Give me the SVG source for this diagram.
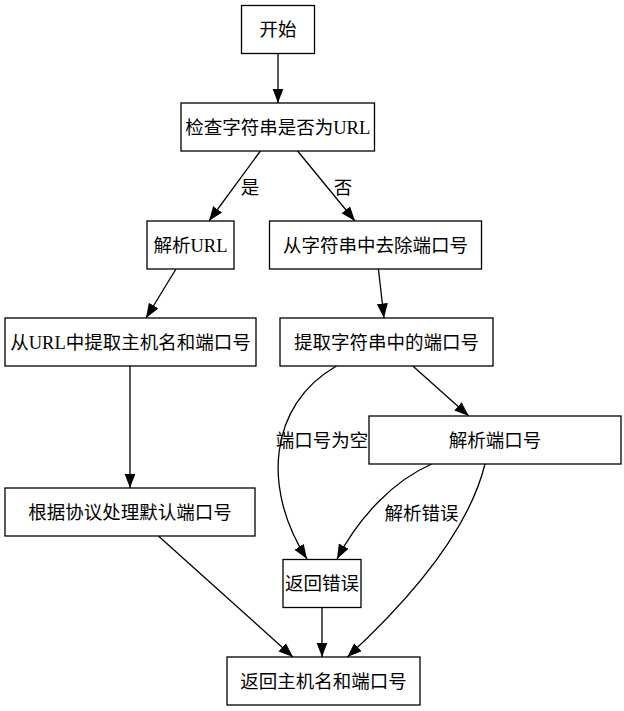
<svg xmlns="http://www.w3.org/2000/svg" width="624" height="711" viewBox="0 0 624 711">
<defs>
<style>
.n rect{fill:#fff;stroke:#000;stroke-width:1.3}
text{font-family:"Liberation Serif","Noto Sans CJK SC",serif;font-size:18.5px;fill:#000;text-anchor:middle}
.e path{fill:none;stroke:#000;stroke-width:1.3;marker-end:url(#ah)}
</style>
<marker id="ah" markerUnits="userSpaceOnUse" markerWidth="16" markerHeight="12" refX="14.5" refY="5.5" orient="auto">
<path d="M0,0 L14.5,5.5 L0,11 z" fill="#000"/>
</marker>
</defs>
<rect width="624" height="711" fill="#fff"/>
<g id="edges" class="e">
<path d="M278,53.5 L278,103"/>
<path d="M260.4,151 L209,221"/>
<path d="M297.6,151 L355,221"/>
<path d="M176,269 L146,318"/>
<path d="M378.4,269 L384,318"/>
<path d="M130,366 L130,488"/>
<path d="M412.8,366 L468.8,416"/>
<path d="M336.5,366 C268,405 262,490 307,559"/>
<path d="M431.7,464 C395,480 360,515 337,559"/>
<path d="M485,464 C470,525 420,590 347.3,657"/>
<path d="M158.4,536 L293,657"/>
<path d="M322,607.5 L322,657"/>
<text x="250" y="193.5">是</text>
<text x="343" y="193.5">否</text>
<text x="322" y="446.5">端口号为空</text>
<text x="421.5" y="519.5">解析错误</text>
</g>
<g id="start" class="n"><rect x="241.5" y="5.5" width="73" height="48"/><text x="278" y="36">开始</text></g>
<g id="check" class="n"><rect x="181" y="103" width="193.5" height="48"/><text x="277.7" y="133.5">检查字符串是否为URL</text></g>
<g id="parseurl" class="n"><rect x="147" y="221" width="87" height="48"/><text x="190.5" y="251.5">解析URL</text></g>
<g id="strip" class="n"><rect x="269.5" y="221" width="212" height="48"/><text x="375.5" y="251.5">从字符串中去除端口号</text></g>
<g id="extracturl" class="n"><rect x="5" y="318" width="251" height="48"/><text x="130.5" y="348.5">从URL中提取主机名和端口号</text></g>
<g id="extractstr" class="n"><rect x="280" y="318" width="213" height="48"/><text x="386.5" y="348.5">提取字符串中的端口号</text></g>
<g id="parseport" class="n"><rect x="369" y="416" width="252" height="48"/><text x="495" y="446.5">解析端口号</text></g>
<g id="default" class="n"><rect x="5" y="488" width="250" height="48"/><text x="130" y="518.5">根据协议处理默认端口号</text></g>
<g id="error" class="n"><rect x="283" y="559.5" width="78" height="48"/><text x="322" y="590">返回错误</text></g>
<g id="result" class="n"><rect x="227" y="657" width="193" height="48"/><text x="323.5" y="687.5">返回主机名和端口号</text></g>
</svg>
